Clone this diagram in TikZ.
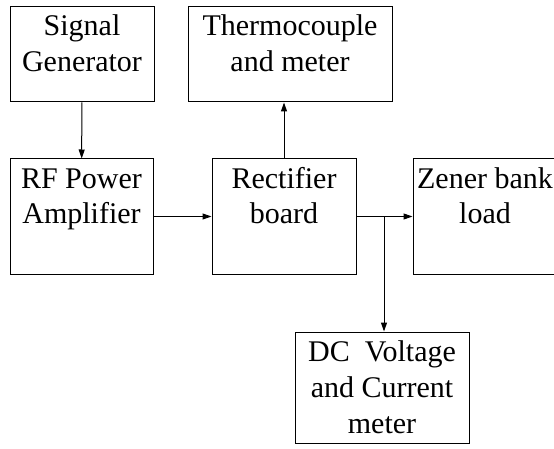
\documentclass[tikz,border=0pt]{standalone}
\usepackage{fontspec}
\setmainfont{Liberation Serif}
\usetikzlibrary{calc, arrows.meta}
\newcommand{\blktxt}[3]{\parbox[c][#2][t]{#1}{\centering\rule{0pt}{29pt}#3}}

\begin{document}
\begin{tikzpicture}[x=1pt, y=-1pt,
    blk/.style={draw, line width=1pt, inner sep=0pt, font=\fontsize{30}{36}\selectfont},
    conn/.style={line width=1pt, -{Triangle[length=9pt, width=6pt]}}]
            \useasboundingbox (0,0) rectangle (554,449);
            \node[blk] (sig) at (82,54.5) {\blktxt{144pt}{95pt}{Signal\\Generator}};
            \node[blk] (thermo) at (290,54.5) {\blktxt{204pt}{95pt}{Thermocouple\\and meter}};
            \node[blk] (rf) at (81.5,216.5) {\blktxt{143pt}{115pt}{RF Power\\Amplifier}};
            \node[blk] (rect) at (284,216.5) {\blktxt{144pt}{115pt}{Rectifier\\board}};
            \node[blk] (zener) at (485,216.5) {\blktxt{144pt}{115pt}{Zener bank\\load}};
            \node[blk] (dc) at (382,387.5) {\blktxt{174pt}{111pt}{DC~~Voltage\\and Current\\meter}};
            \coordinate (J) at (384,216.5);
            %\coordinate (J) at ($(rect.east)!0.5!(zener.west)$);
            \draw[conn] (sig) -- (rf);
            \draw[conn] (rf) -- (rect);
            \draw[conn] (rect) -- (rect |- thermo.south);
            \draw[conn] (rect) -- (zener);
            \draw[conn] (J) -- (J |- dc.north);
        \end{tikzpicture}
\end{document}
